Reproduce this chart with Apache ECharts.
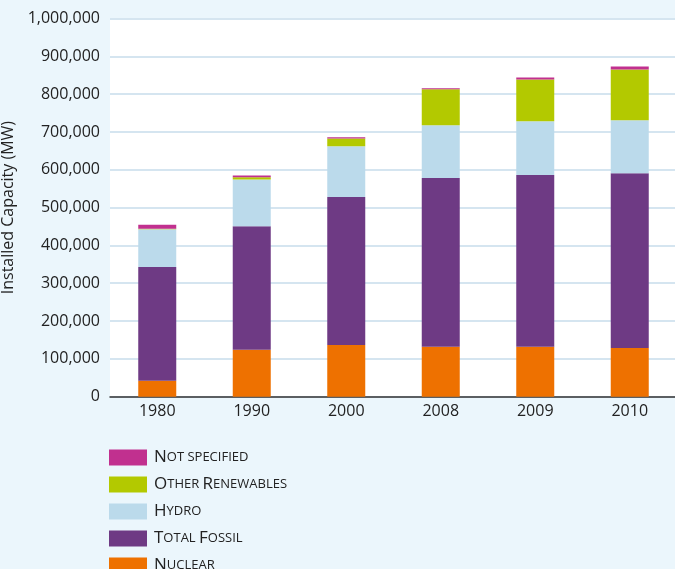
<!DOCTYPE html>
<html>
<head>
<meta charset="utf-8">
<script src="https://cdn.jsdelivr.net/npm/echarts@6/dist/echarts.min.js"></script>
<style>
html,body{margin:0;padding:0;background:#EBF6FC;}
#c{width:675px;height:569px;}
</style>
</head>
<body>
<div id="c"></div>
<script>
const categories = ['1980','1990','2000','2008','2009','2010'];
const nuclear = [42000, 124000, 137000, 132000, 132000, 129000];
const fossil = [301000, 327000, 391000, 446000, 454000, 462000];
const hydro = [100000, 123000, 134000, 140000, 142000, 140000];
const otherRenewables = [1000, 6000, 21000, 95000, 111000, 134000];
const notSpecified = [10500, 5000, 3000, 2600, 5000, 8000];
const yTicks = [0, 100000, 200000, 300000, 400000, 500000, 600000, 700000, 800000, 900000, 1000000];

const names = ['Nuclear','Total Fossil','Hydro','Other Renewables','Not specified'];
const legendRich = {
  'Not specified': '{b|N}{s|OT SPECIFIED}',
  'Other Renewables': '{b|O}{s|THER }{b|R}{s|ENEWABLES}',
  'Hydro': '{b|H}{s|YDRO}',
  'Total Fossil': '{b|T}{s|OTAL }{b|F}{s|OSSIL}',
  'Nuclear': '{b|N}{s|UCLEAR}'
};
const colors = ['#EE7100','#6E3A84','#BBDAEB','#B3C900','#C1308F'];
const data = [nuclear, fossil, hydro, otherRenewables, notSpecified];
const font = '"Open Sans", sans-serif';

const chart = echarts.init(document.getElementById('c'), null, {renderer:'canvas'});
chart.setOption({
  backgroundColor: '#EBF6FC',
  animation: false,
  grid: {left: 110, top: 18.5, right: -2, bottom: 172.3, backgroundColor: '#fff', show: true, borderWidth: 0, outerBoundsMode: 'none', containLabel: false},
  xAxis: {
    type: 'category', data: categories,
    axisLine: {lineStyle: {color: '#333', width: 1.5}},
    axisTick: {show: false},
    axisLabel: {color: '#222', fontSize: 16, fontFamily: font, margin: 7}
  },
  yAxis: {
    type: 'value', min: yTicks[0], max: yTicks[yTicks.length-1], interval: 100000,
    name: 'Installed Capacity (MW)', nameLocation: 'middle', nameGap: 89, nameRotate: 90,
    nameTextStyle: {color: '#222', fontSize: 16, fontFamily: font},
    axisLine: {show: false}, axisTick: {show: false},
    axisLabel: {color: '#222', fontSize: 16, fontFamily: font, margin: 10,
      formatter: v => v.toLocaleString('en-US')},
    splitLine: {lineStyle: {color: '#D5E5F0', width: 2}}
  },
  legend: {
    orient: 'vertical', left: 109, top: 449, height: 200, padding: 0,
    itemWidth: 38, itemHeight: 16, itemGap: 10,
    data: names.slice().reverse(), icon: 'rect',
    formatter: n => legendRich[n],
    textStyle: {color: '#222', fontFamily: font, padding: [0,0,0,2],
      rich: {b: {fontSize: 17, lineHeight: 16, color: '#222', fontFamily: font},
             s: {fontSize: 13, lineHeight: 16, color: '#222', fontFamily: font}}}
  },
  series: names.map((n, i) => ({
    name: n, type: 'bar', stack: 'total', data: data[i], barWidth: 38,
    itemStyle: {color: colors[i]}
  }))
});
</script>
</body>
</html>
